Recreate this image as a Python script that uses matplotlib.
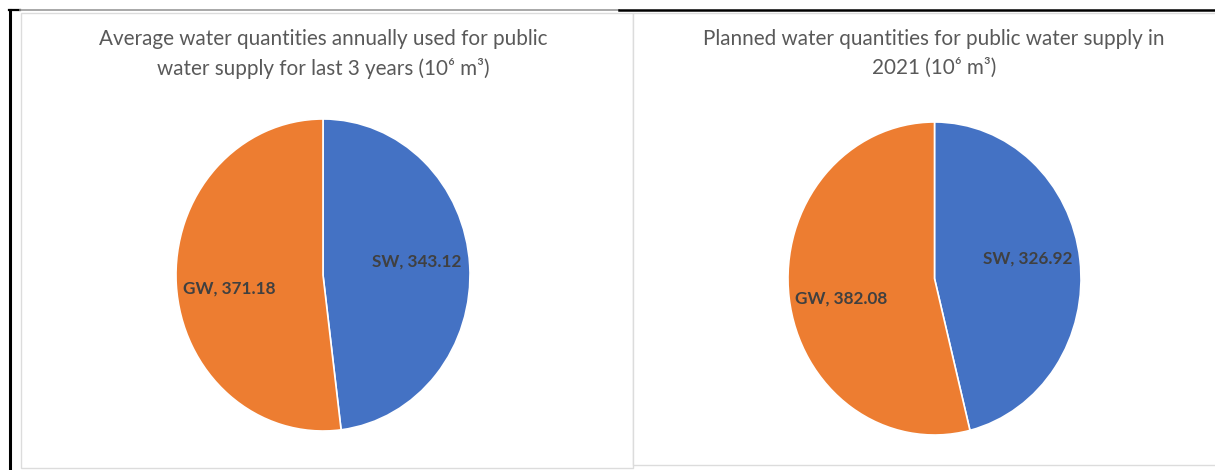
import numpy as np
import matplotlib.pyplot as plt
from matplotlib.lines import Line2D
from matplotlib.patches import Rectangle

labels = ['SW', 'GW']
avg_last3 = [343.12, 371.18]
planned_2021 = [326.92, 382.08]
colors = ['#4472C4', '#ED7D31']
titles = ['Average water quantities annually used for public\nwater supply for last 3 years (10\u2076 m\u00b3)',
          'Planned water quantities for public water supply in\n2021 (10\u2076 m\u00b3)']

W, H = 1215, 470
fig = plt.figure(figsize=(W / 100, H / 100), dpi=100)
fonts = ['Lato', 'DejaVu Sans']


def px_box(x0, y0, x1, y1):
    # pixel box (top-left origin) -> figure fraction rect
    return [x0 / W, 1 - y1 / H, (x1 - x0) / W, (y1 - y0) / H]


# panel frames
for x0, y0, x1, y1 in [(21, 13, 633, 468), (633, 13, 1225, 465)]:
    fig.add_artist(Rectangle((x0 / W, 1 - y1 / H), (x1 - x0) / W, (y1 - y0) / H,
                             transform=fig.transFigure, facecolor='white',
                             edgecolor='#dcdcdc', linewidth=1.0, zorder=-5))

# document table borders
fig.add_artist(Line2D([9.5 / W, 9.5 / W], [0, 1 - 9.5 / H], color='black', lw=2.2, transform=fig.transFigure))
fig.add_artist(Line2D([8.5 / W, 20 / W], [1 - 10 / H, 1 - 10 / H], color='black', lw=1.6, transform=fig.transFigure))
fig.add_artist(Line2D([20 / W, 619 / W], [1 - 9.5 / H, 1 - 9.5 / H], color='#9a9a9a', lw=1.2, transform=fig.transFigure))
fig.add_artist(Line2D([619 / W, 1], [1 - 10 / H, 1 - 10 / H], color='black', lw=1.8, transform=fig.transFigure))

pies = [(avg_last3, (176, 119, 470, 431), 323, titles[0]),
        (planned_2021, (788, 122, 1081, 435), 934, titles[1])]

for values, box, tx, title in pies:
    ax = fig.add_axes(px_box(*box))
    wedges, _ = ax.pie(values, colors=colors, startangle=90, counterclock=False,
                       wedgeprops=dict(edgecolor='white', linewidth=1.2))
    ax.set_aspect('auto')
    ax.set_xlim(-1, 1)
    ax.set_ylim(-1, 1)
    ax.axis('off')
    for w, lab, v in zip(wedges, labels, values):
        mid = np.deg2rad((w.theta1 + w.theta2) / 2)
        r = 0.64
        ax.text(r * np.cos(mid), r * np.sin(mid) + 0.05 * np.sign(np.cos(mid)),
                f'{lab}, {v:.2f}', ha='center', va='center', fontsize=12.3,
                fontweight='bold', color='#404040', family=fonts)
    fig.text(tx / W, 1 - 29 / H, title, ha='center', va='top', fontsize=14.9,
             color='#595959', family=fonts, linespacing=1.55)

fig.savefig('out.png', dpi=100)
